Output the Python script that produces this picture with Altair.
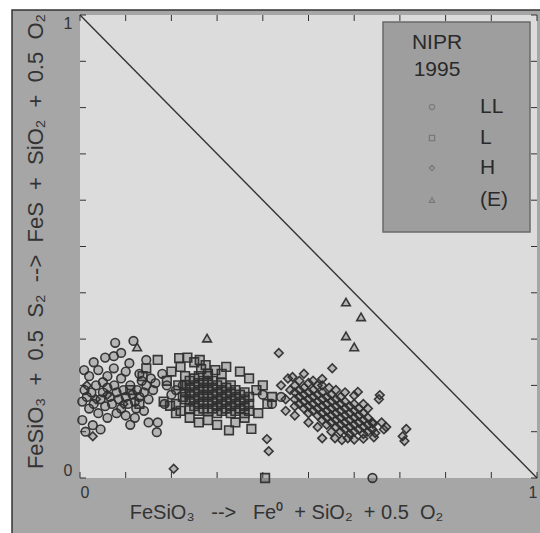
import altair as alt
import pandas as pd

# Reduction coordinates of ordinary chondrites (NIPR 1995 catalogue)
ll_x = [0.077, 0.117, 0.074, 0.108, 0.074, 0.009, 0.020, 0.040, 0.050, 0.028, 0.168, 0.170, 0.123,
        0.010, 0.015, 0.025, 0.030, 0.035, 0.045, 0.050, 0.055, 0.060, 0.065, 0.070, 0.075, 0.080,
        0.085, 0.090, 0.095, 0.100, 0.105, 0.110, 0.115, 0.120, 0.125, 0.130, 0.135, 0.140, 0.145,
        0.150, 0.155, 0.160, 0.165, 0.020, 0.040, 0.060, 0.080, 0.100, 0.120, 0.140, 0.060, 0.090,
        0.100, 0.130, 0.005, 0.030, 0.055, 0.090, 0.145, 0.180, 0.190, 0.200, 0.185, 0.005, 0.012,
        0.045, 0.110, 0.150, 0.210, 0.225, 0.400, 0.420, 0.440, 0.640]
ll_y = [0.292, 0.296, 0.263, 0.248, 0.237, 0.233, 0.220, 0.233, 0.207, 0.114, 0.099, 0.120, 0.150,
        0.190, 0.175, 0.185, 0.160, 0.200, 0.170, 0.185, 0.155, 0.195, 0.175, 0.160, 0.200, 0.185,
        0.170, 0.150, 0.190, 0.175, 0.160, 0.200, 0.180, 0.165, 0.190, 0.175, 0.210, 0.185, 0.200,
        0.170, 0.215, 0.190, 0.205, 0.150, 0.140, 0.130, 0.140, 0.135, 0.130, 0.145, 0.220, 0.215,
        0.230, 0.225, 0.165, 0.250, 0.260, 0.270, 0.255, 0.225, 0.200, 0.180, 0.160, 0.125, 0.100,
        0.105, 0.115, 0.120, 0.190, 0.200, 0.180, 0.160, 0.175, 0.000]

l_x = [0.170, 0.145, 0.137, 0.217, 0.210, 0.197, 0.262, 0.275, 0.296, 0.326, 0.375, 0.386, 0.405,
       0.183, 0.190, 0.200, 0.220, 0.235, 0.250, 0.230, 0.215, 0.225, 0.210, 0.220, 0.240, 0.260,
       0.280, 0.300, 0.340, 0.360, 0.390, 0.410, 0.420, 0.400, 0.370, 0.350, 0.320, 0.310, 0.280,
       0.265, 0.130, 0.110,
       0.23, 0.23, 0.23,
       0.24, 0.24, 0.24, 0.24, 0.24,
       0.25, 0.25, 0.25, 0.25, 0.25,
       0.26, 0.26, 0.26, 0.26, 0.26, 0.26,
       0.27, 0.27, 0.27, 0.27, 0.27,
       0.28, 0.28, 0.28, 0.28, 0.28, 0.28,
       0.29, 0.29, 0.29, 0.29, 0.29,
       0.30, 0.30, 0.30, 0.30, 0.30,
       0.31, 0.31, 0.31, 0.31, 0.31,
       0.32, 0.32, 0.32, 0.32,
       0.33, 0.33, 0.33, 0.33, 0.33,
       0.34, 0.34, 0.34, 0.34,
       0.35, 0.35, 0.35,
       0.36, 0.36, 0.36, 0.36,
       0.37, 0.37, 0.37]
l_y = [0.255, 0.237, 0.220, 0.259, 0.140, 0.156, 0.255, 0.244, 0.233, 0.103, 0.106, 0.190, 0.000,
       0.165, 0.210, 0.230, 0.240, 0.260, 0.250, 0.220, 0.200, 0.175, 0.160, 0.145, 0.130, 0.120,
       0.125, 0.115, 0.120, 0.130, 0.140, 0.160, 0.175, 0.200, 0.215, 0.230, 0.240, 0.225, 0.225,
       0.235, 0.160, 0.190,
       0.200, 0.185, 0.170,
       0.210, 0.195, 0.180, 0.165, 0.150,
       0.215, 0.200, 0.185, 0.170, 0.155,
       0.220, 0.205, 0.190, 0.175, 0.160, 0.145,
       0.210, 0.195, 0.180, 0.165, 0.150,
       0.220, 0.205, 0.190, 0.175, 0.160, 0.145,
       0.210, 0.195, 0.180, 0.165, 0.150,
       0.200, 0.185, 0.170, 0.155, 0.140,
       0.205, 0.190, 0.175, 0.160, 0.145,
       0.195, 0.180, 0.165, 0.150,
       0.200, 0.185, 0.170, 0.155, 0.140,
       0.190, 0.175, 0.160, 0.145,
       0.180, 0.165, 0.150,
       0.185, 0.170, 0.155, 0.140,
       0.175, 0.160, 0.145]

h_x = [0.435, 0.552, 0.530, 0.654, 0.714, 0.706, 0.710, 0.643, 0.409, 0.413, 0.465, 0.205,
       0.530, 0.558, 0.573, 0.586, 0.641, 0.646, 0.656, 0.608, 0.015, 0.028, 0.035, 0.060, 0.095,
       0.44, 0.45, 0.455, 0.46, 0.49, 0.51, 0.53, 0.545, 0.56, 0.58, 0.60, 0.62, 0.63, 0.66,
       0.665, 0.67, 0.62, 0.60, 0.55, 0.52, 0.50, 0.47, 0.45,
       0.47, 0.47, 0.47, 0.47,
       0.48, 0.48, 0.48, 0.48,
       0.49, 0.49, 0.49, 0.49,
       0.50, 0.50, 0.50, 0.50, 0.50,
       0.51, 0.51, 0.51, 0.51,
       0.52, 0.52, 0.52, 0.52, 0.52,
       0.53, 0.53, 0.53, 0.53, 0.53,
       0.54, 0.54, 0.54, 0.54, 0.54,
       0.55, 0.55, 0.55, 0.55, 0.55,
       0.56, 0.56, 0.56, 0.56, 0.56,
       0.57, 0.57, 0.57, 0.57, 0.57, 0.57,
       0.58, 0.58, 0.58, 0.58, 0.58,
       0.59, 0.59, 0.59, 0.59, 0.59,
       0.60, 0.60, 0.60, 0.60, 0.60,
       0.61, 0.61, 0.61, 0.61,
       0.62, 0.62, 0.62, 0.62,
       0.63, 0.63, 0.63,
       0.64, 0.64]
h_y = [0.270, 0.237, 0.214, 0.170, 0.106, 0.090, 0.080, 0.088, 0.084, 0.058, 0.218, 0.020,
       0.086, 0.086, 0.082, 0.086, 0.117, 0.097, 0.179, 0.186, 0.200, 0.090, 0.170, 0.180, 0.160,
       0.200, 0.170, 0.215, 0.190, 0.225, 0.210, 0.200, 0.195, 0.190, 0.185, 0.178, 0.160, 0.150,
       0.120, 0.105, 0.110, 0.085, 0.083, 0.100, 0.110, 0.120, 0.135, 0.145,
       0.200, 0.185, 0.170, 0.155,
       0.210, 0.190, 0.175, 0.160,
       0.195, 0.180, 0.165, 0.150,
       0.205, 0.185, 0.170, 0.155, 0.140,
       0.190, 0.175, 0.160, 0.145,
       0.200, 0.180, 0.165, 0.150, 0.135,
       0.185, 0.170, 0.155, 0.140, 0.125,
       0.175, 0.160, 0.145, 0.130, 0.115,
       0.180, 0.165, 0.150, 0.135, 0.120,
       0.170, 0.155, 0.140, 0.125, 0.110,
       0.175, 0.160, 0.145, 0.130, 0.115, 0.100,
       0.165, 0.150, 0.135, 0.120, 0.105,
       0.155, 0.140, 0.125, 0.110, 0.095,
       0.160, 0.145, 0.130, 0.115, 0.100,
       0.150, 0.135, 0.120, 0.105,
       0.140, 0.125, 0.110, 0.095,
       0.130, 0.115, 0.100,
       0.120, 0.105]

e_x = [0.582, 0.615, 0.582, 0.600, 0.278, 0.125]
e_y = [0.380, 0.348, 0.307, 0.283, 0.302, 0.283]

tick_values = [0.0, 0.1, 0.2, 0.3, 0.4, 0.5, 0.6, 0.7, 0.8, 0.9, 1.0]
legend_groups = ["LL", "L", "H", "(E)"]
legend_shapes = ["circle", "square", "diamond", "triangle-up"]

FONT = "Liberation Sans"
W, H = 457, 463
INK = "#2f2f2f"
NB = "\u00a0"  # non-collapsing space for the spaced-out axis titles


def spaced(*parts):
    out = ""
    for part, gap in parts:
        out += part + NB * gap
    return out


x_title = spaced(("FeSiO₃", 3), ("-->", 3), ("Fe⁰", 2), ("+", 1), ("SiO₂", 2), ("+", 1), ("0.5", 2), ("O₂", 0))
y_title = spaced(("FeSiO₃", 2), ("+", 2), ("0.5", 2), ("S₂", 2), ("-->", 2), ("FeS", 2), ("+", 2),
                 ("SiO₂", 2), ("+", 2), ("0.5", 2), ("O₂", 0))

rows = []
for g, xs_, ys_ in (("LL", ll_x, ll_y), ("L", l_x, l_y), ("H", h_x, h_y), ("(E)", e_x, e_y)):
    rows += [{"x": a, "y": b, "group": g} for a, b in zip(xs_, ys_)]
points = pd.DataFrame(rows)

xs = alt.Scale(domain=[0, 1], nice=False, zero=False)
ys = alt.Scale(domain=[0, 1], nice=False, zero=False)
one = pd.DataFrame({"k": [0]})

frame = alt.Chart(one).mark_rect(fill="#a6a6a6", stroke="#333333", strokeWidth=1.5).encode(
    x=alt.value(-68), x2=alt.value(462), y=alt.value(-5), y2=alt.value(520))
plot_bg = alt.Chart(one).mark_rect(fill="#dcdcdc").encode(
    x=alt.value(0), x2=alt.value(W), y=alt.value(0), y2=alt.value(H))

diag = alt.Chart(pd.DataFrame({"x": [0, 1], "y": [1, 0]})).mark_line(
    color="#333333", strokeWidth=1.4).encode(
    x=alt.X("x:Q", scale=xs, axis=alt.Axis(
        values=[0, 1], format="d", ticks=False, domain=False, grid=False, labelFlush=True,
        labelFontSize=16, labelFont=FONT, labelColor="#333333", labelPadding=6, zindex=2,
        title=x_title, titleFont=FONT, titleFontSize=20,
        titleFontWeight="normal", titleColor="#333333", titleX=206, titleY=34,
        titleBaseline="middle", titleAlign="center")),
    y=alt.Y("y:Q", scale=ys, axis=alt.Axis(
        values=[0, 1], format="d", ticks=False, domain=False, grid=False, labelFlush=True,
        labelFontSize=16, labelFont=FONT, labelColor="#333333", labelPadding=8, zindex=2,
        title=y_title, titleFont=FONT, titleFontSize=22,
        titleFontWeight="normal", titleColor="#333333", titleX=-45, titleY=226,
        titleBaseline="middle", titleAlign="center")),
)

tk = pd.DataFrame({"t": tick_values})
tick_style = dict(color="#333333", strokeWidth=1)
ticks_bottom = alt.Chart(tk).mark_rule(**tick_style).encode(
    x=alt.X("t:Q", scale=xs), y=alt.value(H), y2=alt.value(H - 6))
ticks_top = alt.Chart(tk).mark_rule(**tick_style).encode(
    x=alt.X("t:Q", scale=xs), y=alt.value(0), y2=alt.value(6))
ticks_left = alt.Chart(tk).mark_rule(**tick_style).encode(
    y=alt.Y("t:Q", scale=ys), x=alt.value(0), x2=alt.value(6))
ticks_right = alt.Chart(tk).mark_rule(**tick_style).encode(
    y=alt.Y("t:Q", scale=ys), x=alt.value(W), x2=alt.value(W - 6))

scatter = alt.Chart(points).mark_point(
    filled=True, fill="#2f2f2f", fillOpacity=0.22, stroke=INK, strokeWidth=1.6, size=75, strokeOpacity=0.95
).encode(
    x=alt.X("x:Q", scale=xs),
    y=alt.Y("y:Q", scale=ys),
    shape=alt.Shape("group:N", scale=alt.Scale(domain=legend_groups, range=legend_shapes), legend=None),
)

# Legend box drawn by hand in the upper right corner
legend_box = alt.Chart(one).mark_rect(fill="#9e9e9e", stroke="#6a6a6a", strokeWidth=1.5).encode(
    x=alt.value(303), x2=alt.value(450), y=alt.value(7), y2=alt.value(217))
legend_layers = [legend_box]
for txt, yy in (("NIPR", 28), ("1995", 55)):
    legend_layers.append(alt.Chart(one).mark_text(
        text=txt, font=FONT, fontSize=21, color="#2a2a2a", align="center", baseline="middle").encode(
        x=alt.value(357), y=alt.value(yy)))
for g, shp, yy in zip(legend_groups, legend_shapes, (92, 123, 153, 185)):
    legend_layers.append(alt.Chart(one).mark_point(
        shape=shp, filled=False, size=28, strokeWidth=1.2, color="#6a6a6a").encode(
        x=alt.value(352), y=alt.value(yy)))
    legend_layers.append(alt.Chart(one).mark_text(
        text=g, font=FONT, fontSize=21, color="#2a2a2a", align="left", baseline="middle").encode(
        x=alt.value(400), y=alt.value(yy)))

chart = alt.layer(
    frame, plot_bg, diag, ticks_bottom, ticks_top, ticks_left, ticks_right, scatter, *legend_layers
).properties(
    width=W, height=H,
    autosize=alt.AutoSizeParams(type="none"),
    padding={"left": 80, "top": 15, "right": 3, "bottom": 55},
    background="white",
).configure_view(stroke=None)

chart.save("out.html", embed_options={"renderer": "svg", "actions": False})
